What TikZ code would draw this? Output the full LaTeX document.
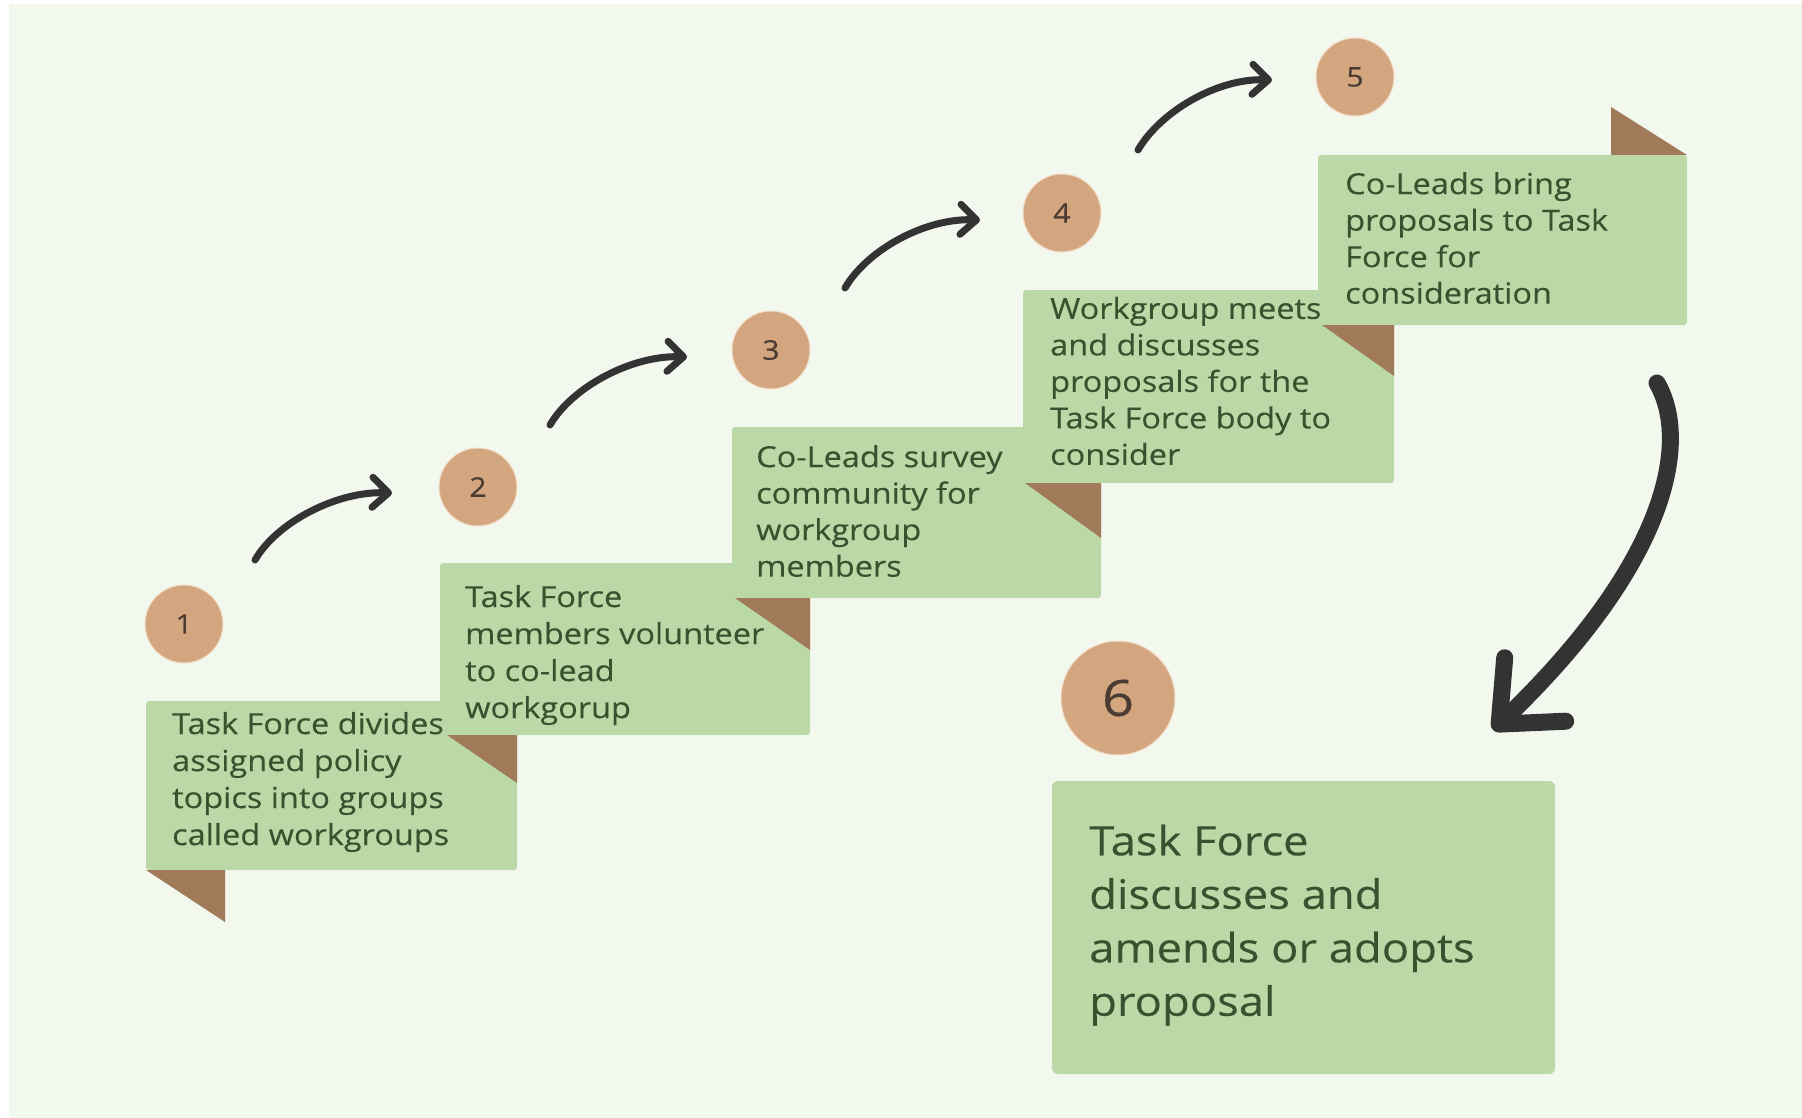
\documentclass[tikz,border=0pt]{standalone}
\usepackage{fontspec}
\setmainfont[FakeStretch=1.12,FakeBold=0.3]{Open Sans}
\usetikzlibrary{arrows.meta}
\definecolor{bgc}{HTML}{F3F8EF}
\definecolor{boxc}{HTML}{BBD9A6}
\definecolor{circc}{HTML}{D3A680}
\definecolor{circl}{HTML}{F3DCC6}
\definecolor{tric}{HTML}{A07A59}
\definecolor{arrc}{HTML}{333333}
\definecolor{txtc}{HTML}{37522F}
\definecolor{numc}{HTML}{4A3C32}
\tikzset{
  boxfill/.style={fill=boxc, rounded corners=3pt},
  fold/.style={fill=tric},
  txt/.style={align=left, inner sep=0pt, text=txtc, anchor=west, font=\fontsize{29}{37}\selectfont},
  ctxt/.style={txt, font=\fontsize{29}{36.5}\selectfont},
  bigtxt/.style={txt, font=\fontsize{40.5}{53.5}\selectfont},
  num/.style={circle, fill=circc, draw=circl, line width=1pt, minimum size=78pt, inner sep=0pt, text=numc, font=\fontsize{27}{27}\selectfont},
  bignum/.style={num, minimum size=114pt, font=\fontsize{50}{50}\selectfont},
  arr/.style={draw=arrc, line width=7pt, line cap=round, -{Straight Barb[length=16pt,width=30pt,round]}},
  bigarr/.style={draw=arrc, line width=17pt, line cap=round, -{Straight Barb[length=50pt,width=88pt,round]}}
}
\begin{document}
\begin{tikzpicture}[x=1pt,y=-1pt]
\useasboundingbox (0,0) rectangle (1802,1118);
\fill[white] (0,0) rectangle (1802,1118);
\fill[bgc] (9,4) rectangle (1802,1118);

% boxes
\fill[boxfill] (146,701) rectangle (517,870);
\fill[boxfill] (440,563) rectangle (810,735);
\fill[boxfill] (732,427) rectangle (1101,598);
\fill[boxfill] (1023,290) rectangle (1394,483);
\fill[boxfill] (1318,155) rectangle (1687,325);
\fill[fill=boxc, rounded corners=6pt] (1052,781) rectangle (1555,1074);

% folds
\fill[fold] (146,870) -- (225,870) -- (225,922) -- cycle;
\fill[fold] (447,735) -- (517,735) -- (517,783) -- cycle;
\fill[fold] (735,598) -- (810,598) -- (810,650) -- cycle;
\fill[fold] (1025,483) -- (1101,483) -- (1101,538) -- cycle;
\fill[fold] (1322,325) -- (1394,325) -- (1394,376) -- cycle;
\fill[fold] (1611,107) -- (1611,155) -- (1687,155) -- cycle;

% texts
\node[txt] (t1) at (172,782) {Task Force divides\\assigned policy\\topics into groups\\called workgroups};
\node[txt] (t2) at (465,655) {Task Force\\members volunteer\\to co-lead\\workgorup};
\node[ctxt] (t3) at (756,511) {Co-Leads survey\\community for\\workgroup\\members};
\node[ctxt] (t4) at (1050,381) {Workgroup meets\\and discusses\\proposals for the\\Task Force body to\\consider};
\node[ctxt] (t5) at (1345,238) {Co-Leads bring\\proposals to Task\\Force for\\consideration};
\node[bigtxt] (t6) at (1089,925) {Task Force\\discusses and\\amends or adopts\\proposal};

% numbers
\node[num] (n1) at (184,624) {1};
\node[num] (n2) at (478,487) {2};
\node[num] (n3) at (771,350) {3};
\node[num] (n4) at (1062,213) {4};
\node[num] (n5) at (1355,77) {5};
\node[bignum] (n6) at (1118,698) {6};

% arrows
\coordinate (a1s) at (255,560); \coordinate (a1e) at (392,493);
\coordinate (a2s) at (550,425); \coordinate (a2e) at (687,357);
\coordinate (a3s) at (845,288); \coordinate (a3e) at (980,220);
\coordinate (a4s) at (1138,150); \coordinate (a4e) at (1272,80);
\draw[arr] (a1s) .. controls +(22,-38) and +(-55,-2) .. (a1e);
\draw[arr] (a2s) .. controls +(22,-38) and +(-55,-2) .. (a2e);
\draw[arr] (a3s) .. controls +(22,-38) and +(-55,-2) .. (a3e);
\draw[arr] (a4s) .. controls +(22,-38) and +(-55,-2) .. (a4e);
\coordinate (bs) at (1657,383); \coordinate (be) at (1493,730);
\draw[bigarr] (bs) .. controls (1690,440) and (1670,560) .. (be);
\end{tikzpicture}
\end{document}
